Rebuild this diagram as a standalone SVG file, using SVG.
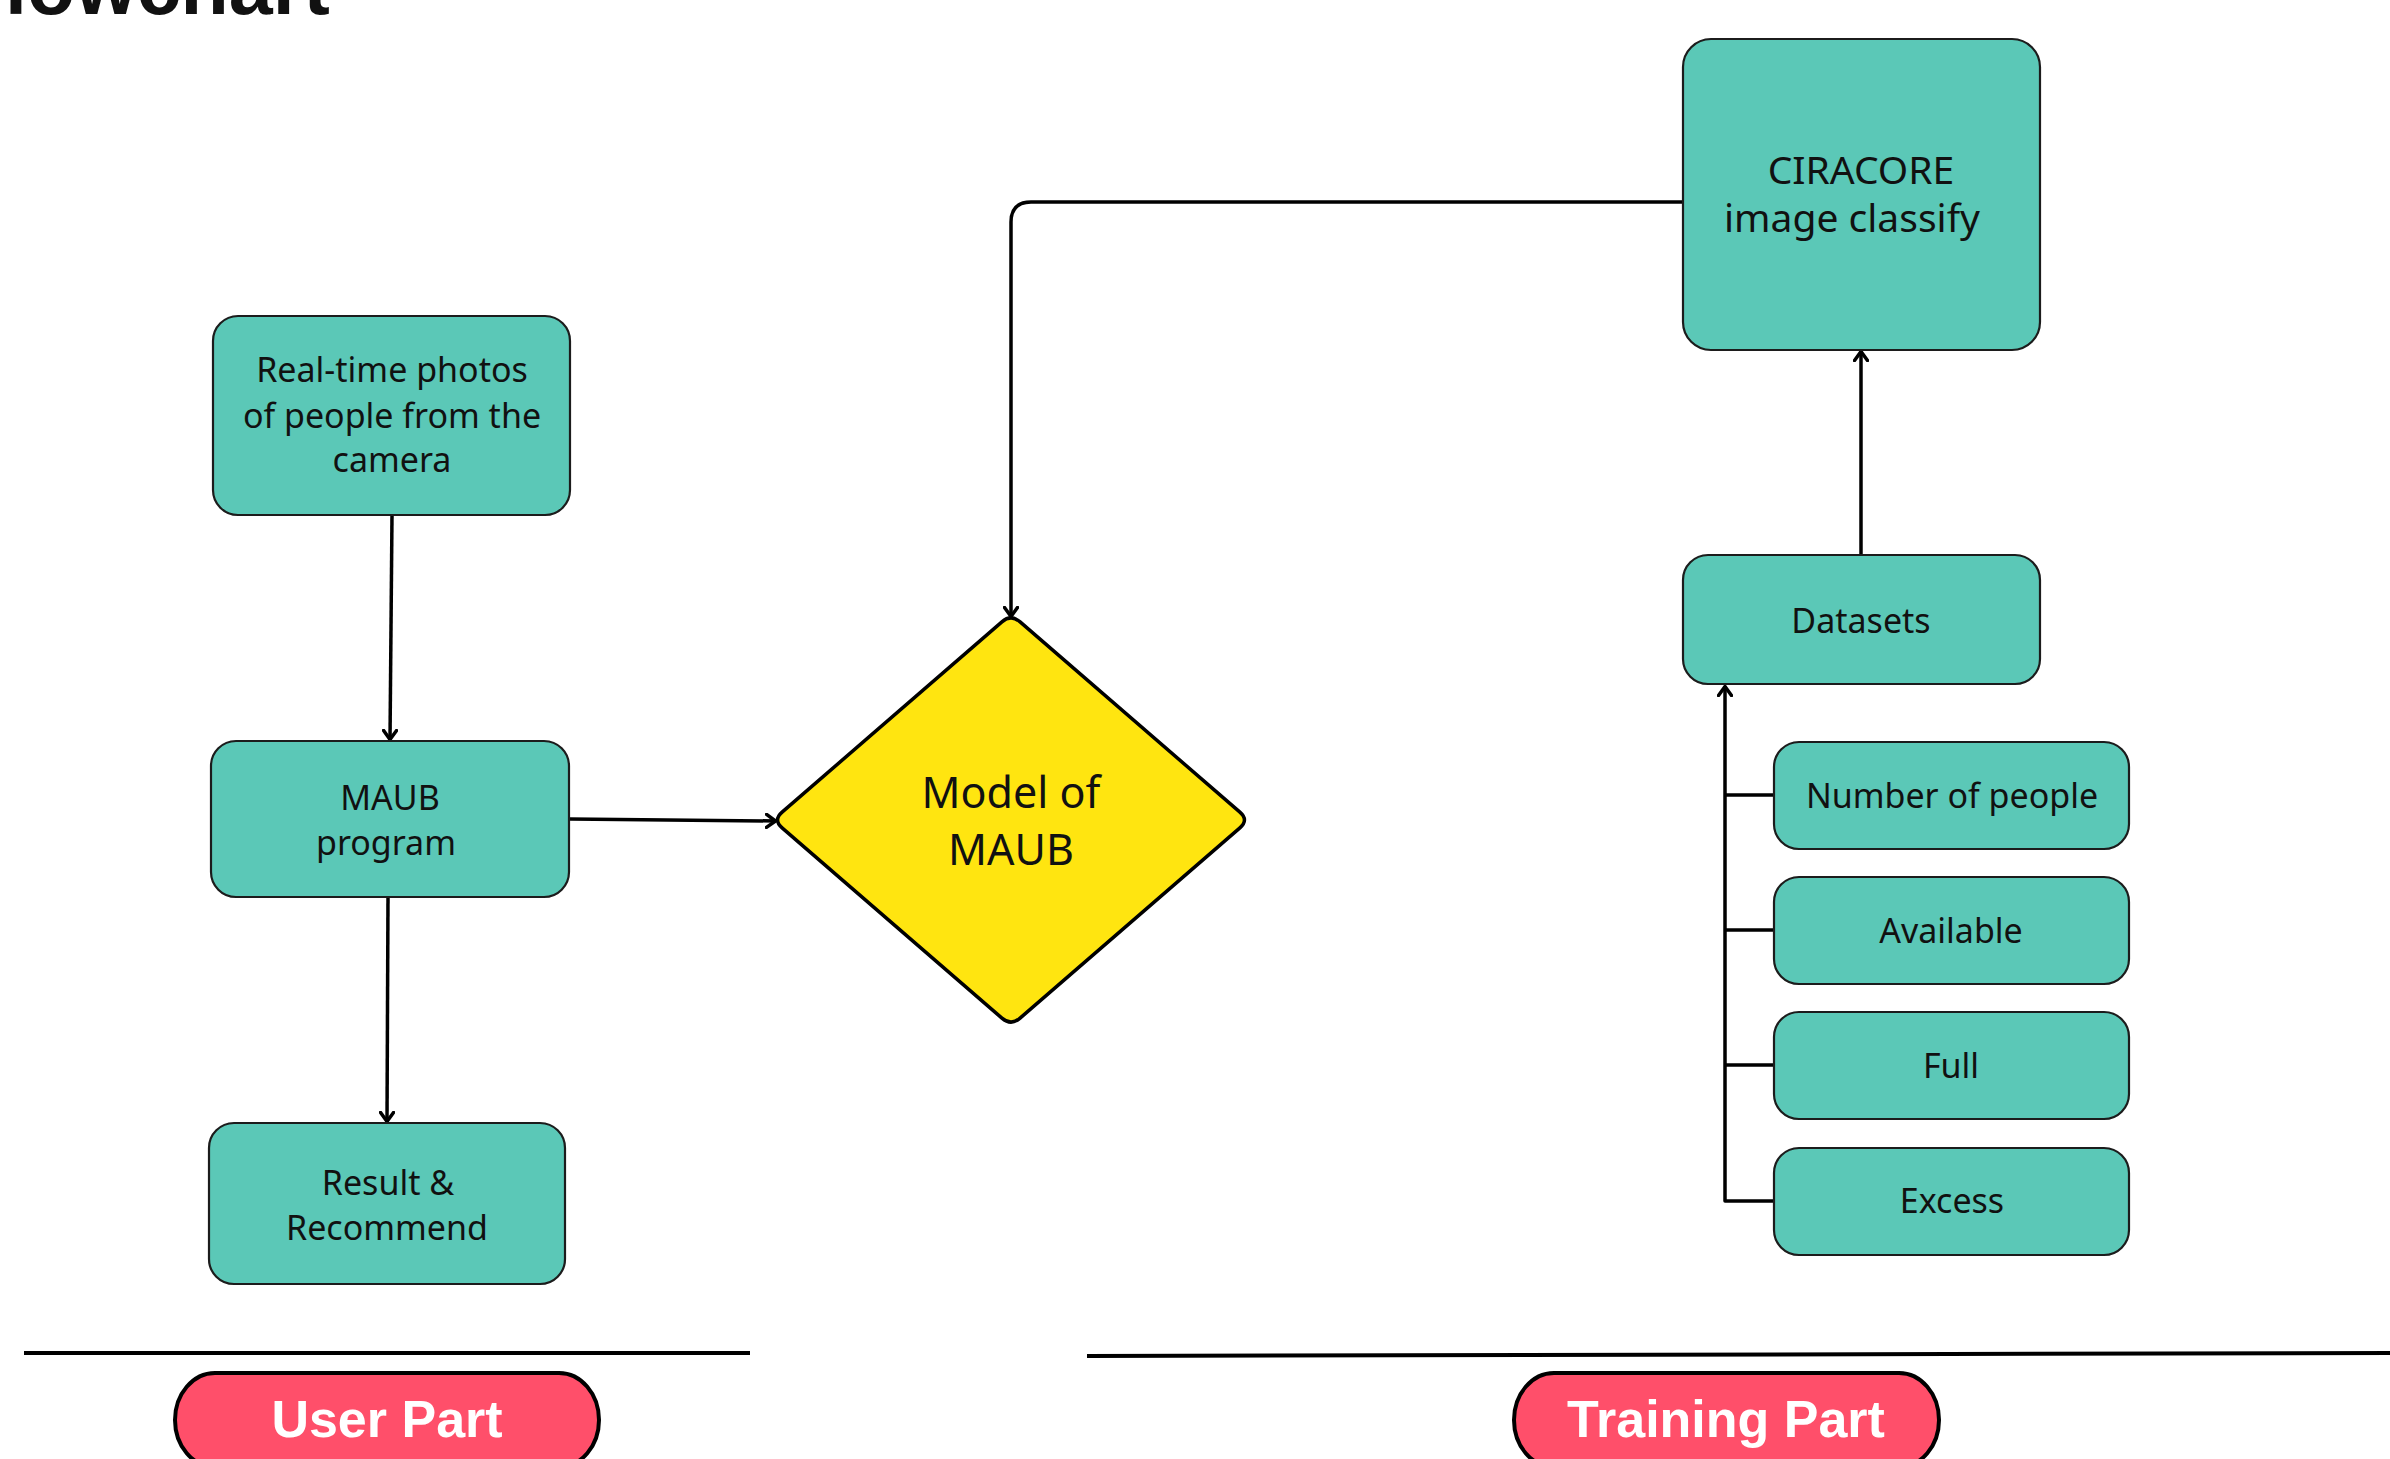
<svg xmlns="http://www.w3.org/2000/svg" width="2390" height="1459" viewBox="0 0 2390 1459">
<style>
.box{fill:#5BC8B7;stroke:#1c1c1c;stroke-width:2.2}
.t{font-family:"Noto Sans","Liberation Sans",sans-serif;font-size:34px;fill:#111;text-anchor:middle}
.t39{font-size:39px}
.t43{font-size:43px}
.con{fill:none;stroke:#000;stroke-width:3.5;stroke-linejoin:round}
.pill{fill:#FF4F6A;stroke:#000;stroke-width:4}
.pt{font-family:"Liberation Sans","Arial",sans-serif;font-weight:bold;font-size:52px;fill:#fff;text-anchor:middle}
.sep{stroke:#000;stroke-width:4}
</style>
<defs>
<marker id="arr" markerUnits="userSpaceOnUse" viewBox="0 0 12 16" markerWidth="12" markerHeight="16" refX="11" refY="8" orient="auto">
<path d="M1.5,1.5 L10.5,8 L1.5,14.5" fill="none" stroke="#000" stroke-width="3.5" stroke-linecap="round" stroke-linejoin="round"/>
</marker>
</defs>
<rect width="2390" height="1459" fill="#fff"/>
<text x="5" y="14" font-family="Liberation Sans,Arial,sans-serif" font-weight="bold" font-size="79" fill="#111">lowchart</text>

<g id="connectors">
<path class="con" d="M392,515 L390,740" marker-end="url(#arr)"/>
<path class="con" d="M388,897 L387,1122" marker-end="url(#arr)"/>
<path class="con" d="M570,819 L776,821" marker-end="url(#arr)"/>
<path class="con" d="M1683,202 L1031,202 Q1011,202 1011,222 L1011,617" marker-end="url(#arr)"/>
<path class="con" d="M1861,555 L1861,351" marker-end="url(#arr)"/>
<path class="con" d="M1774,1201 L1725,1201 L1725,686" marker-end="url(#arr)"/>
<path class="con" d="M1725,795 H1774 M1725,930 H1774 M1725,1065 H1774"/>
</g>

<g id="node-realtime">
<rect class="box" x="213" y="316" width="357" height="199" rx="25"/>
<text class="t" x="392" y="382">Real-time photos</text>
<text class="t" x="392" y="428">of people from the</text>
<text class="t" x="392" y="472">camera</text>
</g>
<g id="node-maub">
<rect class="box" x="211" y="741" width="358" height="156" rx="25"/>
<text class="t" x="390" y="810">MAUB</text>
<text class="t" x="386" y="855">program</text>
</g>
<g id="node-result">
<rect class="box" x="209" y="1123" width="356" height="161" rx="25"/>
<text class="t" x="388" y="1195">Result &amp;</text>
<text class="t" x="387" y="1240">Recommend</text>
</g>
<g id="node-model">
<path d="M1001.9,621.85 Q1011,614 1020.1,621.85 L1239.9,812.15 Q1249,820 1239.9,827.85 L1020.1,1018.15 Q1011,1026 1001.9,1018.15 L782.1,827.85 Q773,820 782.1,812.15 Z" fill="#FFE510" stroke="#000" stroke-width="3.5" stroke-linejoin="round"/>
<text class="t t43" x="1011" y="808">Model of</text>
<text class="t t43" x="1011" y="865">MAUB</text>
</g>
<g id="node-ciracore">
<rect class="box" x="1683" y="39" width="357" height="311" rx="28"/>
<text class="t t39" x="1861" y="184">CIRACORE</text>
<text class="t t39" x="1852" y="232">image classify</text>
</g>
<g id="node-datasets">
<rect class="box" x="1683" y="555" width="357" height="129" rx="25"/>
<text class="t" x="1861" y="633">Datasets</text>
</g>
<g id="node-number">
<rect class="box" x="1774" y="742" width="355" height="107" rx="25"/>
<text class="t" x="1952" y="808">Number of people</text>
</g>
<g id="node-available">
<rect class="box" x="1774" y="877" width="355" height="107" rx="25"/>
<text class="t" x="1951" y="943">Available</text>
</g>
<g id="node-full">
<rect class="box" x="1774" y="1012" width="355" height="107" rx="25"/>
<text class="t" x="1951" y="1078">Full</text>
</g>
<g id="node-excess">
<rect class="box" x="1774" y="1148" width="355" height="107" rx="25"/>
<text class="t" x="1952" y="1213">Excess</text>
</g>

<g id="separators">
<line class="sep" x1="24" y1="1353" x2="750" y2="1353"/>
<line class="sep" x1="1087" y1="1356" x2="2390" y2="1353"/>
</g>
<g id="label-user">
<rect class="pill" x="175" y="1373" width="424" height="94" rx="40" ry="47"/>
<text class="pt" x="387" y="1437">User Part</text>
</g>
<g id="label-training">
<rect class="pill" x="1514" y="1373" width="425" height="94" rx="40" ry="47"/>
<text class="pt" x="1726" y="1437">Training Part</text>
</g>
</svg>
